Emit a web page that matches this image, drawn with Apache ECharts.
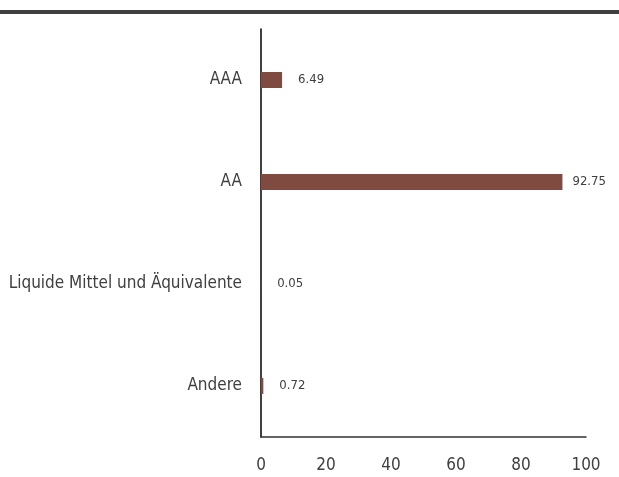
<!DOCTYPE html>
<html><head><meta charset="utf-8">
<script src="https://cdn.jsdelivr.net/npm/echarts@6/dist/echarts.min.js"></script>
<style>html,body{margin:0;padding:0;background:#fff}#c{width:619px;height:477px}</style>
</head><body><div id="c"></div>
<script>
const categories = ["AAA", "AA", "Liquide Mittel und Äquivalente", "Andere"];
const values = [6.49, 92.75, 0.05, 0.72];
const xTicks = [0, 20, 40, 60, 80, 100];
const FONT = "'DejaVu Sans Condensed', 'Liberation Sans Narrow', 'Roboto Condensed', sans-serif";
const chart = echarts.init(document.getElementById('c'));
const seriesData = values.map((v, i) => i === 1 ? { value: v, label: { distance: 10 } } : v);
chart.setOption({
  animation: false,
  backgroundColor: '#fff',
  textStyle: { fontFamily: FONT },
  graphic: [{ type: 'rect', shape: { x: 0, y: 10, width: 619, height: 4 }, style: { fill: '#404040' } }],
  grid: { left: 261, top: 29, right: 33, bottom: 40, containLabel: false },
  xAxis: {
    type: 'value', min: xTicks[0], max: xTicks[xTicks.length - 1], interval: 20,
    axisLine: { show: true, lineStyle: { color: '#333', width: 1.5 } },
    axisTick: { show: false }, splitLine: { show: false },
    axisLabel: { color: '#404040', fontSize: 17, margin: 20, fontFamily: FONT }
  },
  yAxis: {
    type: 'category', data: categories, inverse: true,
    axisLine: { show: true, lineStyle: { color: '#000', width: 1.5 } },
    axisTick: { show: false },
    axisLabel: { color: '#404040', fontSize: 17, margin: 19, fontFamily: FONT }
  },
  series: [{
    type: 'bar', data: seriesData, barWidth: 16,
    itemStyle: { color: '#7f4a40' },
    label: { show: true, position: 'right', distance: 16, color: '#404040', fontSize: 13, fontFamily: FONT, formatter: p => p.value.toFixed(2) }
  }]
});
</script></body></html>
